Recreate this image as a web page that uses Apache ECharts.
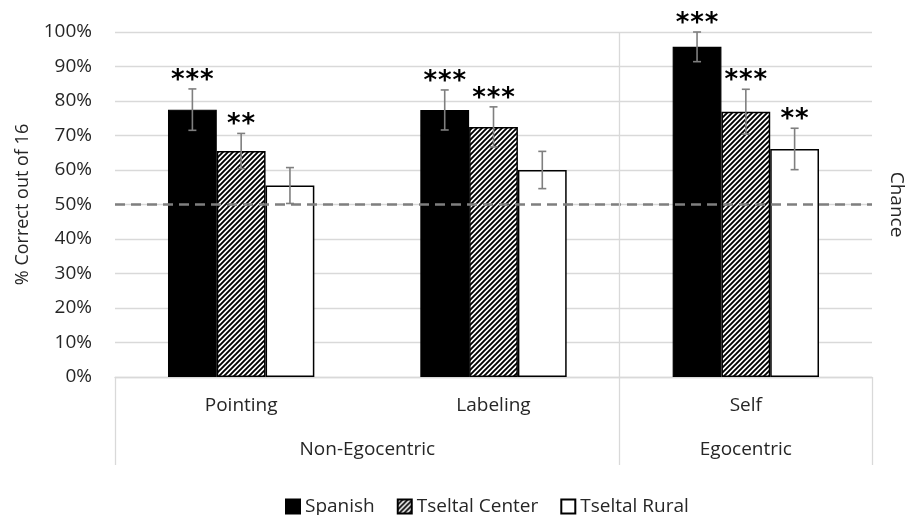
<!DOCTYPE html>
<html>
<head>
<meta charset="utf-8">
<script src="https://cdn.jsdelivr.net/npm/echarts@6/dist/echarts.min.js"></script>
<style>
  html, body { margin: 0; padding: 0; background: #fff; }
  #chart { width: 914px; height: 515px; }
</style>
</head>
<body>
<div id="chart"></div>
<script>
const categories = ['Pointing', 'Labeling', 'Self'];
const groupNames = ['Non-Egocentric', 'Egocentric'];
const groupSpans = [2, 1]; // how many categories each group covers
const yTicks = [0, 10, 20, 30, 40, 50, 60, 70, 80, 90, 100];
const chanceLevel = 50;

const seriesNames = ['Spanish', 'Tseltal Center', 'Tseltal Rural'];
const spanish = [77.5, 77.4, 95.7];
const spanishErr = [6.0, 5.8, 4.3];
const spanishStars = ['***', '***', '***'];
const center = [65.5, 72.5, 76.9];
const centerErr = [5.1, 5.8, 6.5];
const centerStars = ['**', '***', '***'];
const rural = [55.5, 60.0, 66.1];
const ruralErr = [5.2, 5.4, 6.0];
const ruralStars = ['', '', '**'];

const FONT = '"Open Sans", "Noto Sans", sans-serif';
const TEXT = '#262626';
const GRID = '#d9d9d9';
const barGapRatio = 0.42;

// diagonal hatch for Tseltal Center
function makeHatch() {
  const s = 5;
  const c = document.createElement('canvas');
  c.width = s; c.height = s;
  const ctx = c.getContext('2d');
  ctx.fillStyle = '#fff';
  ctx.fillRect(0, 0, s, s);
  ctx.strokeStyle = '#000';
  ctx.lineWidth = 1.9;
  ctx.beginPath();
  ctx.moveTo(-1, s + 1); ctx.lineTo(s + 1, -1);
  ctx.moveTo(-1, 1); ctx.lineTo(1, -1);
  ctx.moveTo(s - 1, s + 1); ctx.lineTo(s + 1, s - 1);
  ctx.stroke();
  return { image: c, repeat: 'repeat' };
}
const hatch = makeHatch();

// group boundaries / centres along the category axis (in category units)
const groupEdges = [0];
const groupCenters = [];
groupSpans.forEach((n, i) => {
  const start = groupEdges[i];
  groupCenters.push(start + n / 2);
  groupEdges.push(start + n);
});

function errSeries(k, vals, errs, stars) {
  return {
    type: 'custom',
    xAxisIndex: 0,
    yAxisIndex: 0,
    silent: true,
    z: 5,
    data: vals.map((v, i) => [i, v, errs[i]]),
    renderItem: function (params, api) {
      const i = api.value(0), v = api.value(1), e = api.value(2);
      const mid = api.coord([i, v]);
      const catW = api.size([1, 0])[0];
      const barW = catW * (1 - barGapRatio) / 3;
      const x = mid[0] + (k - 1) * barW;
      const top = api.coord([i, v + e])[1];
      const bot = api.coord([i, v - e])[1];
      const ls = { stroke: '#7f7f7f', lineWidth: 1.6 };
      const children = [
        { type: 'line', shape: { x1: x, y1: top, x2: x, y2: bot }, style: ls },
        { type: 'line', shape: { x1: x - 4, y1: top, x2: x + 4, y2: top }, style: ls },
        { type: 'line', shape: { x1: x - 4, y1: bot, x2: x + 4, y2: bot }, style: ls }
      ];
      const n = stars[params.dataIndex].length;
      for (let j = 0; j < n; j++) {
        children.push({
          type: 'text',
          style: {
            x: x + (j - (n - 1) / 2) * 14.5, y: top - 8,
            text: '*',
            align: 'center', verticalAlign: 'middle',
            font: 'bold 26px "DejaVu Sans"',
            fill: '#000'
          }
        });
      }
      return { type: 'group', children: children };
    }
  };
}

const chart = echarts.init(document.getElementById('chart'));
chart.setOption({
  animation: false,
  backgroundColor: '#fff',
  textStyle: { fontFamily: FONT, color: TEXT },
  grid: { left: 115, right: 37, top: 32, bottom: 138 },
  legend: {
    data: seriesNames,
    left: 280,
    top: 492,
    itemWidth: 14,
    itemHeight: 14,
    itemGap: 22,
    icon: 'rect',
    textStyle: { fontSize: 19, color: TEXT, fontFamily: FONT }
  },
  xAxis: [
    {
      type: 'category',
      data: categories,
      position: 'bottom',
      axisLine: { show: true, lineStyle: { color: GRID, width: 1.3 } },
      axisTick: { show: false },
      axisLabel: { fontSize: 19, color: TEXT, margin: 19 },
      splitLine: { show: false }
    },
    {
      type: 'value',
      min: 0,
      max: categories.length,
      position: 'bottom',
      axisLine: { show: false },
      splitLine: { show: false },
      axisTick: {
        show: true,
        customValues: groupEdges,
        length: 88,
        lineStyle: { color: GRID, width: 1.3 }
      },
      axisLabel: {
        customValues: groupCenters,
        fontSize: 19,
        color: TEXT,
        margin: 63,
        formatter: function (v) {
          const idx = groupCenters.indexOf(v);
          return idx >= 0 ? groupNames[idx] : '';
        }
      }
    }
  ],
  yAxis: [
    {
      type: 'value',
      min: yTicks[0],
      max: yTicks[yTicks.length - 1],
      interval: yTicks[1] - yTicks[0],
      name: '% Correct out of 16',
      nameLocation: 'middle',
      nameRotate: 90,
      nameGap: 83,
      nameTextStyle: { fontSize: 18, color: TEXT },
      axisLine: { show: false },
      axisTick: { show: false },
      axisLabel: { formatter: '{value}%', fontSize: 19, color: TEXT, margin: 23 },
      splitLine: { lineStyle: { color: GRID, width: 1.3 } }
    },
    {
      type: 'value',
      min: yTicks[0],
      max: yTicks[yTicks.length - 1],
      name: 'Chance',
      nameLocation: 'middle',
      nameRotate: -90,
      nameGap: 15,
      nameTextStyle: { fontSize: 19, color: TEXT },
      axisLine: { show: false },
      axisTick: { show: false },
      axisLabel: { show: false },
      splitLine: { show: false }
    }
  ],
  series: [
    {
      name: seriesNames[0],
      type: 'bar',
      data: spanish,
      barGap: '0%',
      barCategoryGap: (barGapRatio * 100) + '%',
      itemStyle: { color: '#000', borderColor: '#000', borderWidth: 1.2 },
      markLine: {
        silent: true,
        symbol: 'none',
        label: { show: false },
        lineStyle: { color: '#7f7f7f', type: [10, 6], width: 2.5 },
        data: [{ yAxis: chanceLevel }]
      },
      z: 3
    },
    {
      name: seriesNames[1],
      type: 'bar',
      data: center,
      barGap: '0%',
      barCategoryGap: (barGapRatio * 100) + '%',
      itemStyle: { color: hatch, borderColor: '#000', borderWidth: 1.5 },
      z: 2
    },
    {
      name: seriesNames[2],
      type: 'bar',
      data: rural,
      barGap: '0%',
      barCategoryGap: (barGapRatio * 100) + '%',
      itemStyle: { color: '#fff', borderColor: '#000', borderWidth: 1.5 },
      z: 2
    },
    {
      // vertical separator between the two groups, drawn on the group axis
      type: 'scatter',
      xAxisIndex: 1,
      yAxisIndex: 0,
      data: [],
      silent: true,
      markLine: {
        silent: true,
        symbol: 'none',
        label: { show: false },
        lineStyle: { color: GRID, type: 'solid', width: 1.3 },
        data: groupEdges.slice(1, -1).map(v => ({ xAxis: v }))
      },
      z: 1
    },
    errSeries(0, spanish, spanishErr, spanishStars),
    errSeries(1, center, centerErr, centerStars),
    errSeries(2, rural, ruralErr, ruralStars)
  ]
});
</script>
</body>
</html>
